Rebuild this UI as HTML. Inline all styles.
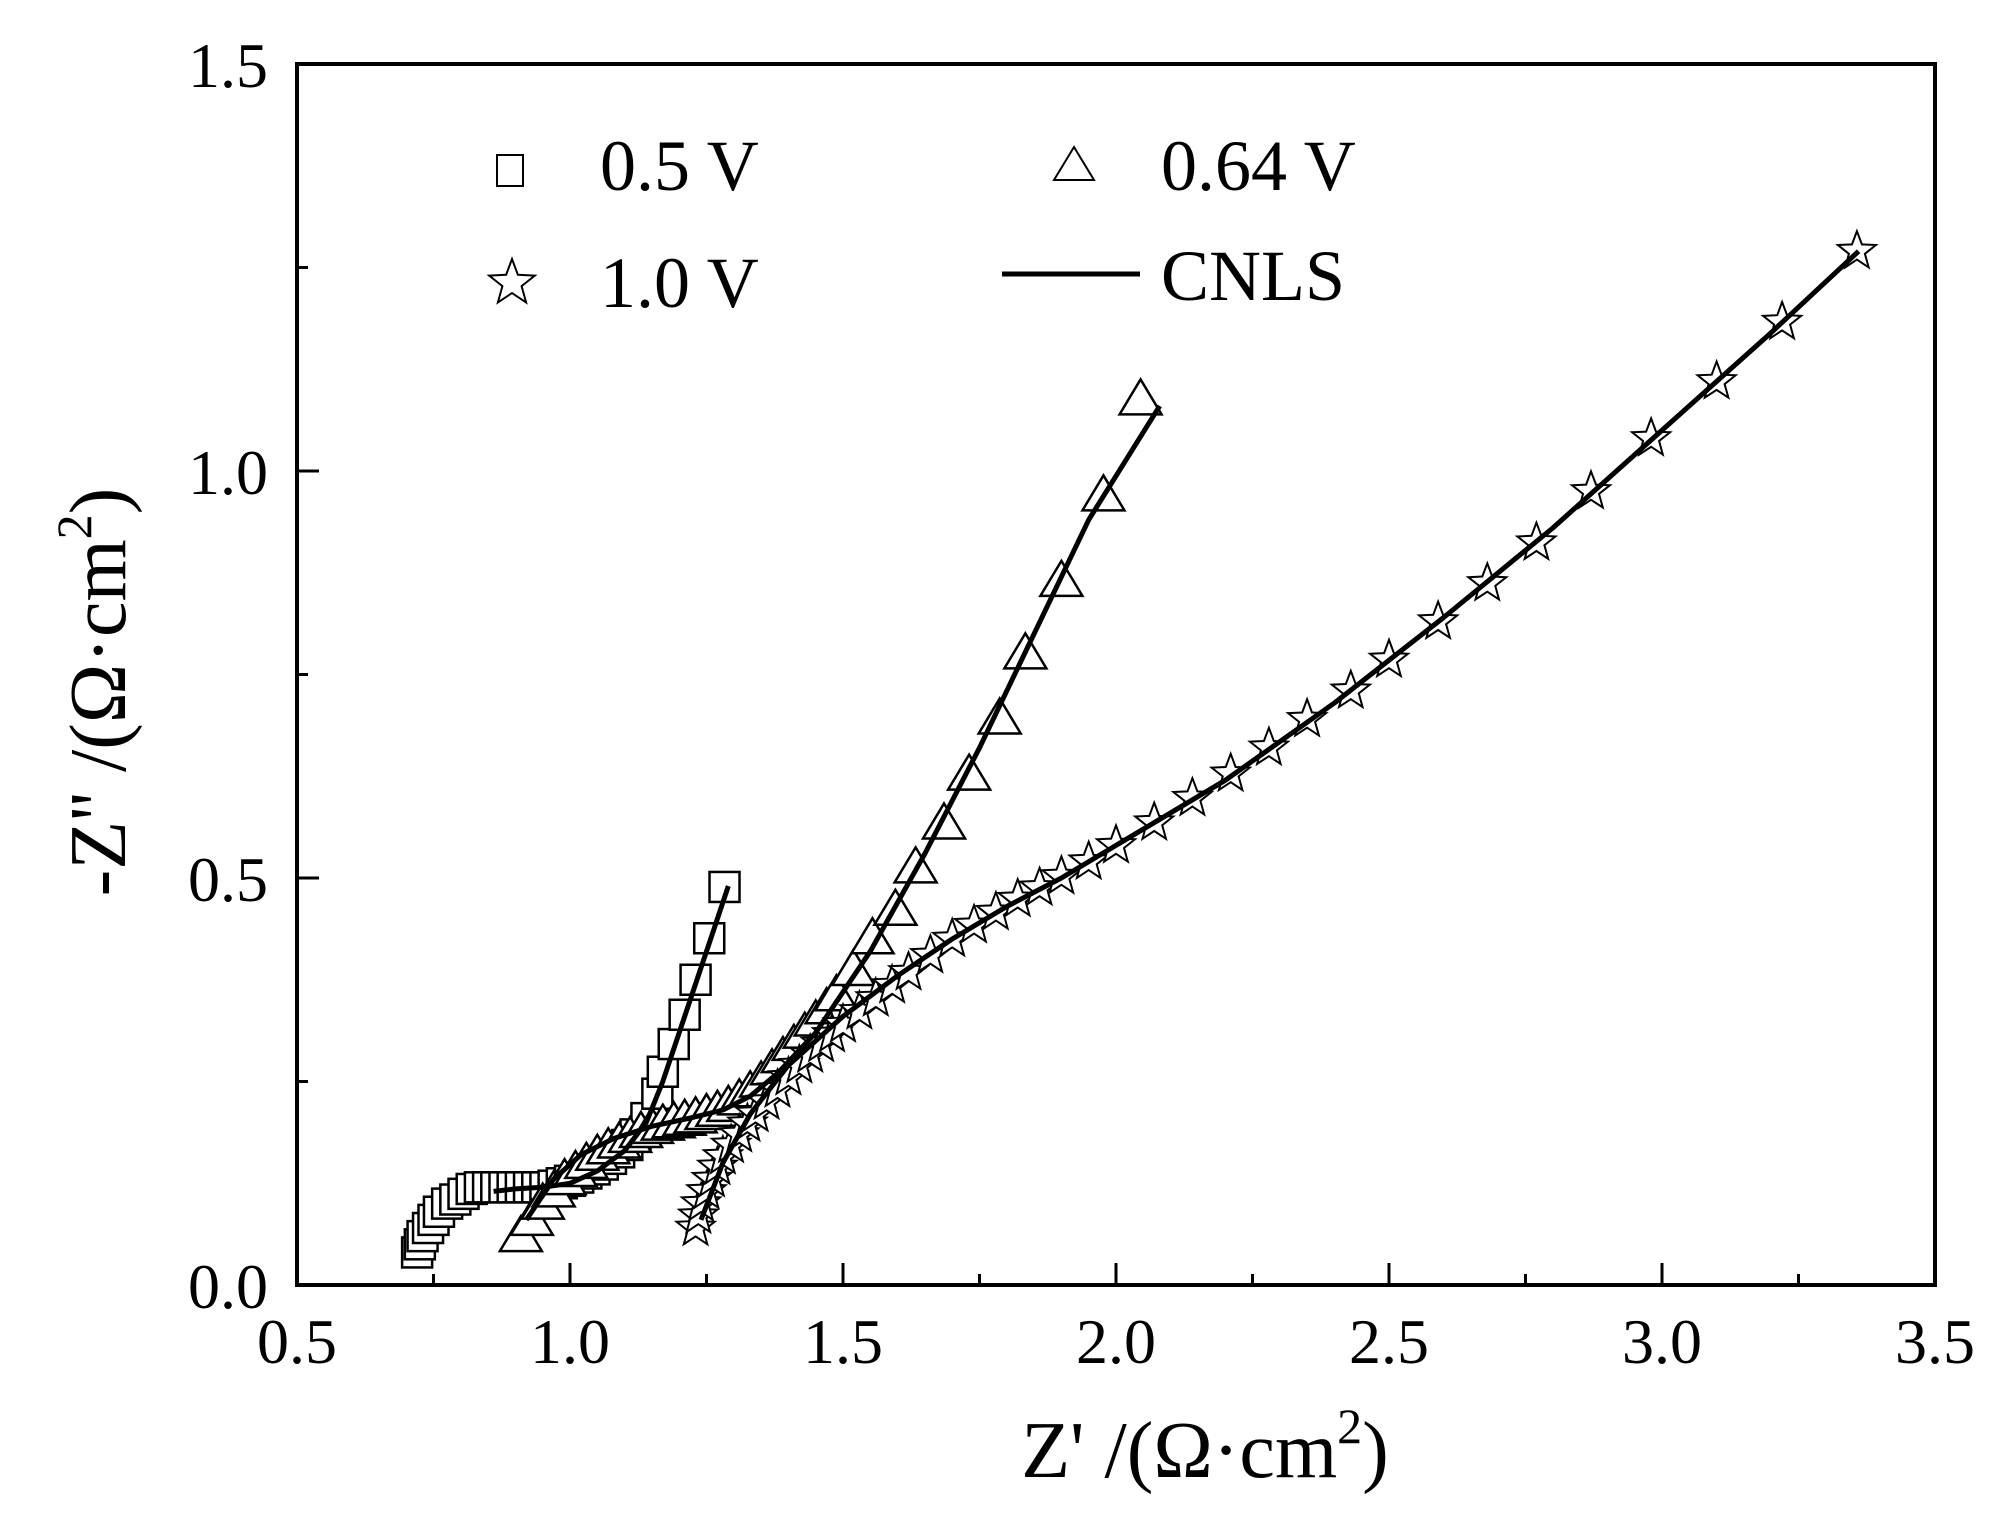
<!DOCTYPE html>
<html><head><meta charset="utf-8"><style>
html,body{margin:0;padding:0;background:#fff;}
svg{display:block;}
text{font-family:"Liberation Serif",serif;fill:#000;}
</style></head><body>
<svg id="chart" width="1999" height="1523" viewBox="0 0 1999 1523" xmlns="http://www.w3.org/2000/svg">
<rect x="0" y="0" width="1999" height="1523" fill="#fff"/>
<g id="marks"></g>
<rect x="297" y="64" width="1638" height="1221" fill="none" stroke="#000" stroke-width="4"/>
<g id="axes"></g>
<text x="1205" y="1477" font-size="80" text-anchor="middle">Z' /(Ω·cm<tspan dy="-34" font-size="50">2</tspan><tspan dy="34">)</tspan></text>
<text transform="translate(125,692) rotate(-90)" font-size="80" text-anchor="middle">-Z'' /(Ω·cm<tspan dy="-34" font-size="50">2</tspan><tspan dy="34">)</tspan></text>
<g>
<rect x="497" y="155" width="26" height="31" fill="none" stroke="#000" stroke-width="2"/>
<text x="600" y="190" font-size="72">0.5 V</text>
<polygon id="legStar" fill="none" stroke="#000" stroke-width="2"/>
<text x="600" y="307" font-size="72">1.0 V</text>
<polygon points="1074,147 1094,180 1054,180" fill="none" stroke="#000" stroke-width="2"/>
<text x="1161" y="190" font-size="72">0.64 V</text>
<line x1="1002" y1="274" x2="1140" y2="274" stroke="#000" stroke-width="5"/>
<text x="1161" y="300" font-size="72">CNLS</text>
</g>
</svg>
<script>
const sqX=[0.72,0.725,0.73,0.74,0.75,0.76,0.775,0.79,0.805,0.82,0.835,0.85,0.865,0.88,0.895,0.91,0.925,0.94,0.955,0.97,0.985,1.0,1.015,1.03,1.045,1.06,1.075,1.09,1.105,1.12,1.14,1.16,1.17,1.19,1.21,1.23,1.255,1.283];
const sqY=[0.04,0.05,0.06,0.07,0.08,0.09,0.1,0.105,0.112,0.118,0.12,0.12,0.12,0.12,0.12,0.12,0.12,0.12,0.12,0.122,0.125,0.128,0.132,0.137,0.142,0.148,0.155,0.163,0.172,0.185,0.205,0.235,0.262,0.296,0.332,0.375,0.426,0.489];
const sqFitX=[0.86,0.9,0.95,1.0,1.05,1.1,1.14,1.17,1.2,1.23,1.26,1.29];
const sqFitY=[0.115,0.118,0.12,0.125,0.14,0.165,0.2,0.25,0.31,0.37,0.43,0.49];
const trX=[0.91,0.93,0.95,0.97,0.99,1.01,1.03,1.05,1.07,1.09,1.11,1.13,1.15,1.17,1.19,1.21,1.23,1.25,1.27,1.29,1.31,1.33,1.35,1.37,1.39,1.41,1.43,1.45,1.47,1.488,1.519,1.554,1.596,1.633,1.685,1.731,1.787,1.834,1.9,1.977,2.045];
const trY=[0.06,0.08,0.1,0.115,0.13,0.14,0.15,0.16,0.168,0.175,0.182,0.188,0.193,0.197,0.2,0.203,0.206,0.21,0.214,0.22,0.228,0.238,0.25,0.265,0.28,0.295,0.31,0.325,0.34,0.356,0.387,0.426,0.461,0.513,0.567,0.627,0.696,0.776,0.865,0.97,1.088];
const trFitX=[0.92,0.97,1.02,1.08,1.15,1.22,1.28,1.33,1.38,1.45,1.55,1.65,1.75,1.85,1.95,2.08];
const trFitY=[0.08,0.13,0.16,0.18,0.195,0.205,0.215,0.232,0.26,0.31,0.41,0.53,0.66,0.8,0.94,1.08];
const stX=[1.23,1.235,1.24,1.25,1.26,1.27,1.28,1.295,1.31,1.325,1.34,1.36,1.38,1.4,1.42,1.44,1.46,1.48,1.5,1.53,1.56,1.59,1.62,1.66,1.7,1.74,1.78,1.82,1.86,1.9,1.95,2.0,2.07,2.14,2.21,2.28,2.35,2.43,2.5,2.59,2.68,2.77,2.87,2.98,3.1,3.22,3.357];
const stY=[0.07,0.085,0.1,0.115,0.13,0.145,0.158,0.172,0.185,0.198,0.21,0.225,0.24,0.255,0.27,0.283,0.296,0.308,0.32,0.336,0.352,0.368,0.384,0.405,0.425,0.442,0.458,0.474,0.488,0.502,0.52,0.54,0.568,0.598,0.628,0.66,0.695,0.73,0.768,0.815,0.862,0.912,0.975,1.04,1.11,1.183,1.27];
const stFitX=[1.24,1.28,1.33,1.4,1.5,1.6,1.7,1.8,1.9,2.0,2.2,2.4,2.6,2.8,3.0,3.2,3.36];
const stFitY=[0.08,0.15,0.21,0.27,0.33,0.38,0.425,0.465,0.5,0.54,0.62,0.715,0.82,0.93,1.05,1.17,1.27];
const xTicks=["0.5","1.0","1.5","2.0","2.5","3.0","3.5"];
const yTicks=["0.0","0.5","1.0","1.5"];

const NS="http://www.w3.org/2000/svg";
const L=297,R=1935,T=64,B=1285;
function sx(v){return L+(v-0.5)/3*(R-L);}
function sy(v){return B-v/1.5*(B-T);}
const marks=document.getElementById('marks');
const axes=document.getElementById('axes');
function starPts(cx,cy,r){let p=[];for(let i=0;i<10;i++){const a=-Math.PI/2+i*Math.PI/5;const rr=i%2?r*0.42:r;p.push((cx+rr*Math.cos(a)).toFixed(1)+','+(cy+rr*Math.sin(a)).toFixed(1));}return p.join(' ');}
document.getElementById('legStar').setAttribute('points',starPts(512,283,24));

function fitLine(xs,ys,name){
  const pl=document.createElementNS(NS,'polyline');
  pl.setAttribute('points',xs.map((x,i)=>sx(x).toFixed(1)+','+sy(ys[i]).toFixed(1)).join(' '));
  pl.setAttribute('fill','none');pl.setAttribute('stroke','#000');pl.setAttribute('stroke-width','5');pl.setAttribute('stroke-linejoin','round');
  
  
  marks.appendChild(pl);
}
sqX.forEach((x,i)=>{
  const r=document.createElementNS(NS,'rect');
  r.setAttribute('x',sx(x)-15);r.setAttribute('y',sy(sqY[i])-15);r.setAttribute('width',30);r.setAttribute('height',30);
  r.setAttribute('fill','#fff');r.setAttribute('stroke','#000');r.setAttribute('stroke-width','2.5');
  
  
  marks.appendChild(r);
});
trX.forEach((x,i)=>{
  const p=document.createElementNS(NS,'polygon');const cx=sx(x),cy=sy(trY[i]);
  p.setAttribute('points',`${cx},${cy-20} ${cx+21},${cy+15} ${cx-21},${cy+15}`);
  p.setAttribute('fill','#fff');p.setAttribute('stroke','#000');p.setAttribute('stroke-width','2.5');
  
  
  marks.appendChild(p);
});
stX.forEach((x,i)=>{
  const p=document.createElementNS(NS,'polygon');
  p.setAttribute('points',starPts(sx(x),sy(stY[i]),20));
  p.setAttribute('fill','#fff');p.setAttribute('stroke','#000');p.setAttribute('stroke-width','2');
  
  
  marks.appendChild(p);
});
fitLine(sqFitX,sqFitY,'cnls-fit-0.5v');
fitLine(trFitX,trFitY,'cnls-fit-0.64v');
fitLine(stFitX,stFitY,'cnls-fit-1.0v');

function tick(x1,y1,x2,y2,name){
  const l=document.createElementNS(NS,'line');
  l.setAttribute('x1',x1);l.setAttribute('y1',y1);l.setAttribute('x2',x2);l.setAttribute('y2',y2);
  l.setAttribute('stroke','#000');l.setAttribute('stroke-width','3');
  
  
  axes.appendChild(l);
}
function label(x,y,s,anchor,name){
  const t=document.createElementNS(NS,'text');
  t.setAttribute('x',x);t.setAttribute('y',y);t.setAttribute('font-size','64');t.setAttribute('text-anchor',anchor);
  t.textContent=s;
  
  
  axes.appendChild(t);
}
xTicks.forEach((s,i)=>{
  const v=parseFloat(s);const x=sx(v);
  tick(x,B,x,B-22,'x-major-tick');
  if(i<xTicks.length-1){const m=sx(v+0.25);tick(m,B,m,B-11,'x-minor-tick');}
  label(x,1363,s,'middle','x-tick-label');
});
yTicks.forEach((s,i)=>{
  const v=parseFloat(s);const y=sy(v);
  tick(L,y,L+22,y,'y-major-tick');
  if(i<yTicks.length-1){const m=sy(v+0.25);tick(L,m,L+11,m,'y-minor-tick');}
  label(268,y+23,s,'end','y-tick-label');
});
</script>
</body></html>
